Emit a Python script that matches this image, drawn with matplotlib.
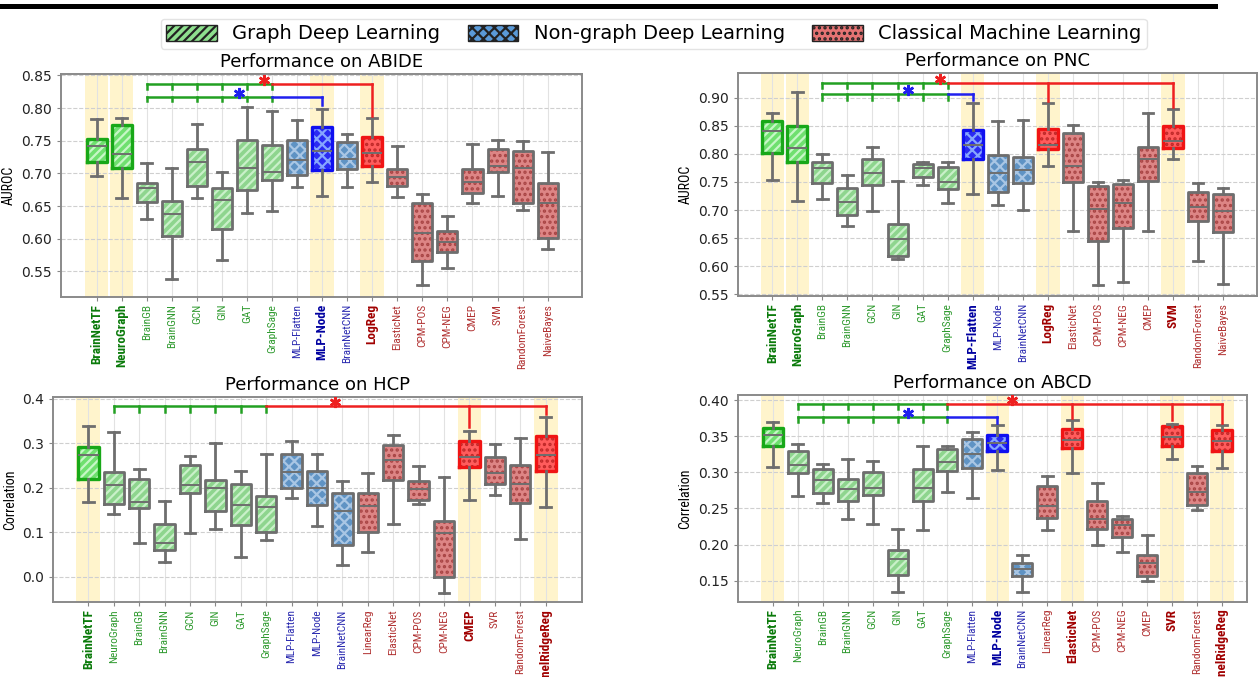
import numpy as np
import matplotlib.pyplot as plt
from matplotlib.patches import Patch
from matplotlib.lines import Line2D
from matplotlib import font_manager

# ---- data ----
abide_models = ['BrainNetTF', 'NeuroGraph', 'BrainGB', 'BrainGNN', 'GCN', 'GIN', 'GAT', 'GraphSage',
                'MLP-Flatten', 'MLP-Node', 'BrainNetCNN', 'LogReg', 'ElasticNet', 'CPM-POS', 'CPM-NEG',
                'CMEP', 'SVM', 'RandomForest', 'NaiveBayes']
abide_lo = [0.696, 0.662, 0.630, 0.538, 0.662, 0.567, 0.639, 0.643, 0.679, 0.666, 0.679, 0.687,
            0.664, 0.529, 0.555, 0.655, 0.666, 0.644, 0.584]
abide_q1 = [0.718, 0.709, 0.656, 0.604, 0.681, 0.615, 0.675, 0.690, 0.697, 0.705, 0.706, 0.712,
            0.680, 0.566, 0.580, 0.670, 0.702, 0.654, 0.601]
abide_med = [0.742, 0.729, 0.678, 0.638, 0.718, 0.659, 0.709, 0.702, 0.721, 0.735, 0.722, 0.731,
             0.694, 0.609, 0.595, 0.687, 0.711, 0.708, 0.654]
abide_q3 = [0.752, 0.774, 0.686, 0.658, 0.738, 0.678, 0.751, 0.743, 0.751, 0.771, 0.748, 0.756,
            0.707, 0.654, 0.612, 0.707, 0.738, 0.735, 0.686]
abide_hi = [0.783, 0.784, 0.716, 0.709, 0.776, 0.702, 0.801, 0.796, 0.781, 0.799, 0.761, 0.784,
            0.742, 0.669, 0.635, 0.745, 0.751, 0.749, 0.733]
abide_best = ['BrainNetTF', 'NeuroGraph', 'MLP-Node', 'LogReg']

pnc_models = ['BrainNetTF', 'NeuroGraph', 'BrainGB', 'BrainGNN', 'GCN', 'GIN', 'GAT', 'GraphSage',
              'MLP-Flatten', 'MLP-Node', 'BrainNetCNN', 'LogReg', 'ElasticNet', 'CPM-POS', 'CPM-NEG',
              'CMEP', 'SVM', 'RandomForest', 'NaiveBayes']
pnc_lo = [0.753, 0.716, 0.719, 0.671, 0.699, 0.612, 0.745, 0.712, 0.728, 0.709, 0.700, 0.779,
          0.662, 0.566, 0.572, 0.662, 0.790, 0.610, 0.568]
pnc_q1 = [0.801, 0.786, 0.749, 0.691, 0.744, 0.618, 0.758, 0.738, 0.790, 0.733, 0.748, 0.809,
          0.750, 0.644, 0.668, 0.752, 0.810, 0.680, 0.661]
pnc_med = [0.841, 0.811, 0.775, 0.714, 0.766, 0.648, 0.774, 0.750, 0.815, 0.766, 0.772, 0.815,
           0.778, 0.702, 0.712, 0.791, 0.823, 0.706, 0.699]
pnc_q3 = [0.859, 0.850, 0.785, 0.739, 0.791, 0.675, 0.782, 0.776, 0.842, 0.798, 0.794, 0.845,
          0.837, 0.742, 0.747, 0.812, 0.849, 0.733, 0.729]
pnc_hi = [0.873, 0.910, 0.800, 0.762, 0.813, 0.752, 0.785, 0.786, 0.891, 0.858, 0.861, 0.891,
          0.852, 0.750, 0.754, 0.873, 0.879, 0.748, 0.740]
pnc_best = ['BrainNetTF', 'NeuroGraph', 'MLP-Flatten', 'LogReg', 'SVM']

hcp_models = ['BrainNetTF', 'NeuroGraph', 'BrainGB', 'BrainGNN', 'GCN', 'GIN', 'GAT', 'GraphSage',
              'MLP-Flatten', 'MLP-Node', 'BrainNetCNN', 'LinearReg', 'ElasticNet', 'CPM-POS', 'CPM-NEG',
              'CMEP', 'SVR', 'RandomForest', 'KernelRidgeReg']
hcp_lo = [0.168, 0.140, 0.075, 0.033, 0.099, 0.108, 0.045, 0.082, 0.177, 0.115, 0.026, 0.055,
          0.118, 0.164, -0.036, 0.173, 0.183, 0.086, 0.157]
hcp_q1 = [0.220, 0.164, 0.154, 0.060, 0.189, 0.148, 0.116, 0.100, 0.200, 0.161, 0.071, 0.100,
          0.218, 0.172, 0.000, 0.247, 0.209, 0.166, 0.237]
hcp_med = [0.273, 0.205, 0.167, 0.076, 0.205, 0.200, 0.161, 0.157, 0.235, 0.200, 0.148, 0.158,
           0.262, 0.196, 0.099, 0.269, 0.233, 0.209, 0.274]
hcp_q3 = [0.292, 0.235, 0.219, 0.118, 0.252, 0.217, 0.209, 0.182, 0.275, 0.237, 0.189, 0.189,
          0.296, 0.216, 0.125, 0.304, 0.269, 0.250, 0.315]
hcp_hi = [0.339, 0.325, 0.241, 0.171, 0.271, 0.301, 0.238, 0.276, 0.305, 0.275, 0.216, 0.233,
          0.318, 0.249, 0.224, 0.327, 0.298, 0.312, 0.359]
hcp_best = ['BrainNetTF', 'CMEP', 'KernelRidgeReg']

abcd_models = hcp_models
abcd_lo = [0.307, 0.267, 0.258, 0.236, 0.229, 0.134, 0.220, 0.273, 0.264, 0.303, 0.135, 0.220,
           0.299, 0.200, 0.190, 0.150, 0.319, 0.248, 0.306]
abcd_q1 = [0.337, 0.299, 0.272, 0.261, 0.268, 0.158, 0.261, 0.302, 0.306, 0.330, 0.157, 0.237,
           0.334, 0.222, 0.211, 0.156, 0.336, 0.255, 0.330]
abcd_med = [0.351, 0.310, 0.289, 0.277, 0.279, 0.180, 0.278, 0.314, 0.326, 0.340, 0.166, 0.254,
            0.345, 0.236, 0.227, 0.174, 0.349, 0.273, 0.343]
abcd_q3 = [0.361, 0.329, 0.305, 0.291, 0.301, 0.193, 0.305, 0.332, 0.346, 0.351, 0.175, 0.281,
           0.360, 0.261, 0.236, 0.185, 0.364, 0.299, 0.358]
abcd_hi = [0.370, 0.339, 0.311, 0.319, 0.316, 0.221, 0.336, 0.336, 0.356, 0.365, 0.185, 0.295,
           0.372, 0.285, 0.240, 0.214, 0.367, 0.309, 0.365]
abcd_best = ['BrainNetTF', 'MLP-Node', 'ElasticNet', 'SVR', 'KernelRidgeReg']

graph_models = ['BrainNetTF', 'NeuroGraph', 'BrainGB', 'BrainGNN', 'GCN', 'GIN', 'GAT', 'GraphSage']
nongraph_models = ['MLP-Flatten', 'MLP-Node', 'BrainNetCNN']
legend_labels = ['Graph Deep Learning', 'Non-graph Deep Learning', 'Classical Machine Learning']

# ---- styles ----
styles = {
    'graph': dict(fc='#8ed58e', hc='#c9f0c9', hatch='////', hi_fc='#6fe06f', hi_hc='#c6f7c6',
                  hi_ec='#18a818', lab='#2f9a2f', hi_lab='#0a7a0a', leg='#8ee08e'),
    'nongraph': dict(fc='#5f93c4', hc='#a9c6e4', hatch='xxx', hi_fc='#2b2bf2', hi_hc='#86a6ff',
                     hi_ec='#1010f0', lab='#2a2ab0', hi_lab='#0000a0', leg='#5a9ad8'),
    'classic': dict(fc='#dd8585', hc='#a84444', hatch='...', hi_fc='#ff5c5c', hi_hc='#c02828',
                    hi_ec='#f01414', lab='#b03030', hi_lab='#a00000', leg='#e57373'),
}
sig_colors = {'green': '#22a022', 'red': '#ee2020', 'blue': '#2020ee'}
gray = '#6e6e6e'

plt.rcParams['hatch.linewidth'] = 1.6

# a narrow face for the rotated labels, if one is installed
narrow, narrow_stretch, lab_size, bold_size = 'DejaVu Sans', 'normal', 7, 8
_cond = {}
for f in font_manager.fontManager.ttflist:
    if str(f.stretch) in ('condensed', 'semi-condensed', 'extra-condensed', 'ultra-condensed'):
        _cond.setdefault(f.name, str(f.stretch))
for name in ['Liberation Sans Narrow', 'DejaVu Sans Condensed', 'Roboto Condensed',
             'Open Sans Condensed', 'Noto Sans', 'Open Sans', 'Roboto', 'Noto Sans Condensed']:
    if name in _cond:
        narrow, narrow_stretch, lab_size, bold_size = name, _cond[name], 8.2, 9.5
        break


def group_of(name):
    if name in graph_models:
        return 'graph'
    if name in nongraph_models:
        return 'nongraph'
    return 'classic'


def draw_panel(ax, models, lo, q1, med, q3, hi, best, title, ylabel, ylim, xlim, yticks, sig):
    pos = np.arange(len(models))
    for i, m in enumerate(models):
        if m in best:
            ax.axvspan(i - 0.47, i + 0.47, color='#fff4cc', zorder=0, lw=0)

    for i, m in enumerate(models):
        st = styles[group_of(m)]
        hl = m in best
        s = [dict(med=med[i], q1=q1[i], q3=q3[i], whislo=lo[i], whishi=hi[i], fliers=[])]
        # hatched fill (hatch takes the edge colour, edge itself hidden)
        ax.bxp(s, positions=[i], widths=0.8, patch_artist=True, showcaps=False,
               boxprops=dict(facecolor=st['hi_fc'] if hl else st['fc'],
                             edgecolor=st['hi_hc'] if hl else st['hc'],
                             hatch=st['hatch'], linewidth=0),
               whiskerprops=dict(visible=False), medianprops=dict(visible=False),
               manage_ticks=False, zorder=2)
        # outline, whiskers, caps, median
        ax.bxp(s, positions=[i], widths=0.8, capwidths=0.42,
               boxprops=dict(color=st['hi_ec'] if hl else gray, linewidth=2.4 if hl else 2.0),
               whiskerprops=dict(color=gray, linewidth=2.0),
               capprops=dict(color=gray, linewidth=2.0),
               medianprops=dict(color=gray, linewidth=1.4),
               manage_ticks=False, zorder=3)

    # significance brackets
    a, b = sig['start'], sig['end']
    levels = [('red', sig['red_y'], sig['red_tick'], sig['red_to'], sig['red_star'])]
    if 'blue_y' in sig:
        levels.append(('blue', sig['blue_y'], sig['blue_tick'], sig['blue_to'], sig['blue_star']))
    for col, y, yt, targets, star in levels:
        ax.plot([a, b], [y, y], color=sig_colors['green'], lw=1.8, zorder=4)
        for k in range(a, b + 1):
            ax.plot([k, k], [y, yt], color=sig_colors['green'], lw=1.8, zorder=4)
        far = max(t[0] for t in targets)
        ax.plot([b, far], [y, y], color=sig_colors[col], lw=1.8, zorder=4)
        for tx, ty in targets:
            ax.plot([tx, tx], [y, ty], color=sig_colors[col], lw=1.8, zorder=4)
        ax.plot(star[0], star[1], marker=(6, 2, 0), ms=8, mew=1.8, color=sig_colors[col], zorder=5)

    ax.set_xlim(*xlim)
    ax.set_ylim(*ylim)
    ax.set_yticks(yticks)
    ax.set_xticks(pos)
    ax.set_xticklabels(models, rotation=90, fontfamily=narrow, fontstretch=narrow_stretch,
                       fontsize=lab_size)
    for lab, m in zip(ax.get_xticklabels(), models):
        st = styles[group_of(m)]
        if m in best:
            lab.set_color(st['hi_lab'])
            lab.set_fontweight('bold')
            lab.set_fontsize(bold_size)
        else:
            lab.set_color(st['lab'])
    ax.tick_params(axis='x', length=3, pad=2, color='#888888')
    ax.tick_params(axis='y', labelsize=10, length=3, color='#888888', labelcolor='#222222')
    ax.set_axisbelow(True)
    ax.grid(axis='y', ls='--', color='#cfcfcf', lw=0.8)
    ax.grid(axis='x', ls='-', color='#e2e2e2', lw=0.8)
    for sp in ax.spines.values():
        sp.set_color('#8a8a8a')
        sp.set_linewidth(1.4)
    ax.set_ylabel(ylabel, fontfamily=narrow, fontstretch=narrow_stretch,
                  fontsize=bold_size + 0.5, labelpad=4)
    ax.set_title(title, fontsize=13, pad=5)


fig = plt.figure(figsize=(12.6, 6.77), dpi=100)

ax1 = fig.add_axes([0.0484, 0.5613, 0.4135, 0.3294])
draw_panel(ax1, abide_models, abide_lo, abide_q1, abide_med, abide_q3, abide_hi, abide_best,
           'Performance on ABIDE', 'AUROC', (0.511, 0.852), (-1.42, 19.37),
           [0.55, 0.60, 0.65, 0.70, 0.75, 0.80, 0.85],
           dict(start=2, end=7, red_y=0.836, red_tick=0.829, red_to=[(11, 0.788)], red_star=(6.7, 0.843),
                blue_y=0.817, blue_tick=0.810, blue_to=[(9, 0.805)], blue_star=(5.7, 0.823)))

ax2 = fig.add_axes([0.5857, 0.5628, 0.4119, 0.3294])
draw_panel(ax2, pnc_models, pnc_lo, pnc_q1, pnc_med, pnc_q3, pnc_hi, pnc_best,
           'Performance on PNC', 'AUROC', (0.547, 0.944), (-1.37, 19.35),
           [0.55, 0.60, 0.65, 0.70, 0.75, 0.80, 0.85, 0.90],
           dict(start=2, end=7, red_y=0.926, red_tick=0.917, red_to=[(11, 0.895), (16, 0.884)],
                red_star=(6.7, 0.934),
                blue_y=0.9066, blue_tick=0.896, blue_to=[(8, 0.896)], blue_star=(5.4, 0.914)))

ax3 = fig.add_axes([0.0423, 0.1103, 0.4194, 0.3037])
draw_panel(ax3, hcp_models, hcp_lo, hcp_q1, hcp_med, hcp_q3, hcp_hi, hcp_best,
           'Performance on HCP', 'Correlation', (-0.057, 0.404), (-1.38, 19.42),
           [0.0, 0.1, 0.2, 0.3, 0.4],
           dict(start=1, end=7, red_y=0.383, red_tick=0.370, red_to=[(15, 0.335), (18, 0.366)],
                red_star=(9.7, 0.392)))

ax4 = fig.add_axes([0.5855, 0.1112, 0.4039, 0.3053])
draw_panel(ax4, abcd_models, abcd_lo, abcd_q1, abcd_med, abcd_q3, abcd_hi, abcd_best,
           'Performance on ABCD', 'Correlation', (0.121, 0.407), (-1.4, 18.98),
           [0.15, 0.20, 0.25, 0.30, 0.35, 0.40],
           dict(start=1, end=7, red_y=0.394, red_tick=0.387,
                red_to=[(12, 0.375), (16, 0.372), (18, 0.368)], red_star=(9.6, 0.400),
                blue_y=0.377, blue_tick=0.370, blue_to=[(9, 0.368)], blue_star=(5.4, 0.382)))

# top rule and legend
fig.add_artist(Line2D([0.0, 0.964], [0.991, 0.991], transform=fig.transFigure, color='black', lw=3.6))
handles = [Patch(facecolor=styles[g]['leg'], edgecolor='#222222', hatch=styles[g]['hatch'], label=l)
           for g, l in zip(['graph', 'nongraph', 'classic'], legend_labels)]
fig.legend(handles=handles, loc='upper center', bbox_to_anchor=(0.519, 0.987), ncol=3,
           fontsize=14, frameon=True, handlelength=2.6, handleheight=0.9, columnspacing=1.4,
           borderpad=0.3, edgecolor='#dddddd', fancybox=True)

fig.savefig('out.png', dpi=100, facecolor='white')
